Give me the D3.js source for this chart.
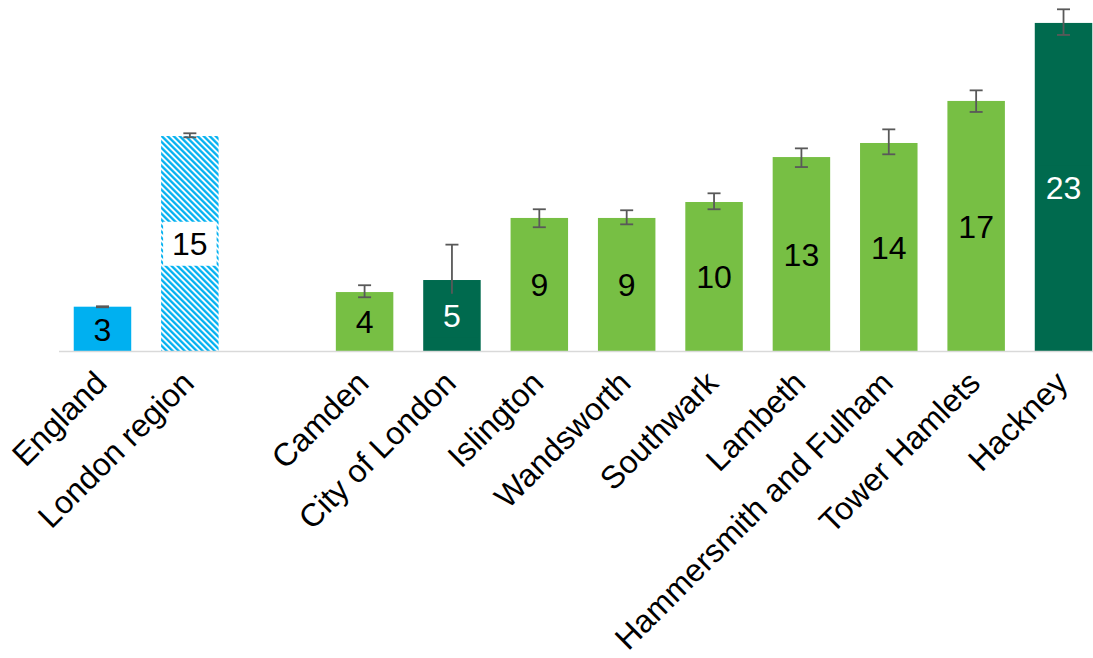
<!DOCTYPE html>
<html>
<head>
<meta charset="utf-8">
<script src="https://cdn.jsdelivr.net/npm/d3@7"></script>
<style>
  html, body { margin: 0; padding: 0; background: #ffffff; }
  svg { display: block; }
  text { font-family: "Liberation Sans", Arial, sans-serif; }
</style>
</head>
<body>
<svg id="chart" width="1093" height="658"></svg>
<script>
// ---- data ----
const categories = ["England", "London region", "", "Camden", "City of London", "Islington",
  "Wandsworth", "Southwark", "Lambeth", "Hammersmith and Fulham", "Tower Hamlets", "Hackney"];
const values = [3.09, 14.86, null, 4.10, 4.93, 9.21, 9.21, 10.31, 13.41, 14.38, 17.28, 22.66];
const lowerCI = [3.05, 14.77, null, 3.74, 2.60, 8.57, 8.77, 9.81, 12.72, 13.60, 16.52, 21.83];
const upperCI = [3.12, 15.05, null, 4.57, 7.37, 9.81, 9.74, 10.91, 14.01, 15.32, 18.01, 23.60];
const barType = ["england", "london", null, "la", "sig", "la", "la", "la", "la", "la", "la", "sig"];

const colors = { england: "#00B0F0", london: "url(#hatch)", la: "#77BF44", sig: "#006A4E" };
const labelFill = { england: "#00B0F0", london: "#ffffff", la: "#77BF44", sig: "#006A4E" };
const labelColor = { england: "#000000", london: "#000000", la: "#000000", sig: "#ffffff" };

const svg = d3.select("#chart");

// hatch pattern (downward diagonal)
const defs = svg.append("defs");
const pat = defs.append("pattern")
  .attr("id", "hatch")
  .attr("patternUnits", "userSpaceOnUse")
  .attr("width", 4.24).attr("height", 4.24)
  .attr("patternTransform", "rotate(-45)");
pat.append("rect").attr("width", 4.24).attr("height", 4.24).attr("fill", "#ffffff");
pat.append("rect").attr("width", 2.3).attr("height", 4.24).attr("fill", "#00B0F0");

const x = d3.scaleBand()
  .domain(d3.range(categories.length))
  .range([58.8, 1107.2])
  .paddingInner(0.342)
  .paddingOuter(0.171);

const y = d3.scaleLinear().domain([0, 25]).range([351.5, 351.5 - 25 * 14.5]);

const idx = d3.range(categories.length).filter(i => values[i] !== null);

// bars
svg.append("g").selectAll("rect")
  .data(idx).join("rect")
  .attr("x", i => x(i))
  .attr("width", x.bandwidth())
  .attr("y", i => y(values[i]))
  .attr("height", i => y(0) - y(values[i]))
  .attr("fill", i => colors[barType[i]]);

// baseline
svg.append("line")
  .attr("x1", 59).attr("x2", 1093)
  .attr("y1", y(0)).attr("y2", y(0))
  .attr("stroke", "#D9D9D9").attr("stroke-width", 1.5);

// error bars
const eg = svg.append("g").attr("stroke", "#595959").attr("stroke-width", 1.8).attr("fill", "none");
idx.forEach(i => {
  const cx = x(i) + x.bandwidth() / 2;
  eg.append("line").attr("x1", cx).attr("x2", cx).attr("y1", y(lowerCI[i])).attr("y2", y(upperCI[i]));
  eg.append("line").attr("x1", cx - 6.5).attr("x2", cx + 6.5).attr("y1", y(lowerCI[i])).attr("y2", y(lowerCI[i]));
  eg.append("line").attr("x1", cx - 6.5).attr("x2", cx + 6.5).attr("y1", y(upperCI[i])).attr("y2", y(upperCI[i]));
});

// data labels with background boxes
const lg = svg.append("g");
idx.forEach(i => {
  const cx = x(i) + x.bandwidth() / 2;
  const cy = (y(values[i]) + y(0)) / 2;
  const t = barType[i];
  if (t === "london" || t === "sig") {
    lg.append("rect")
      .attr("x", x(i) + 2).attr("width", x.bandwidth() - 4)
      .attr("y", cy - 22).attr("height", 44)
      .attr("fill", labelFill[t]);
  }
  lg.append("text")
    .attr("x", cx).attr("y", cy).attr("dy", "0.36em")
    .attr("text-anchor", "middle")
    .attr("font-size", 32)
    .attr("fill", labelColor[t])
    .text(Math.round(values[i]));
});

// category labels
const xg = svg.append("g");
idx.forEach(i => {
  const cx = x(i) + x.bandwidth() / 2;
  xg.append("text")
    .attr("transform", `translate(${cx + 6},385) rotate(-45)`)
    .attr("text-anchor", "end")
    .attr("font-size", 32)
    .attr("fill", "#000000")
    .text(categories[i]);
});
</script>
</body>
</html>
